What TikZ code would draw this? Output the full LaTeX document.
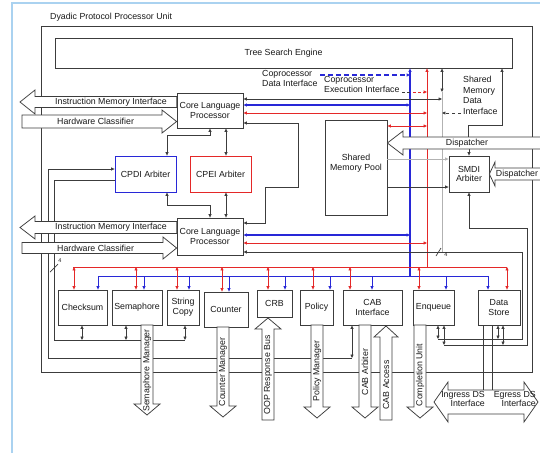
\documentclass[tikz,border=0pt]{standalone}
\usepackage{fontspec}
\setmainfont{Liberation Sans}
\usetikzlibrary{arrows.meta}
\definecolor{cred}{RGB}{228,40,40}
\definecolor{cblue}{RGB}{40,40,215}
\definecolor{frameblue}{RGB}{170,210,240}
\definecolor{ink}{RGB}{60,60,60}
\begin{document}
\begin{tikzpicture}[x=1pt,y=-1pt,
  txt/.style={font=\fontsize{8.8}{9.8}\selectfont, text=black!90, inner sep=0pt, align=center},
  small/.style={font=\fontsize{5.5}{6}\selectfont, text=black!90, inner sep=0pt},
  box/.style={draw=ink, line width=0.75pt, fill=white, align=center, font=\fontsize{8.8}{9.8}\selectfont, text=black!90, inner sep=0pt},
  blk/.style={draw=ink, line width=0.75pt, fill=white, line join=miter},
  ln/.style={draw=ink, line width=0.7pt},
  gln/.style={draw=black!30, line width=0.7pt},
  rln/.style={draw=cred, line width=0.7pt},
  rbus/.style={draw=cred, line width=1pt},
  bln/.style={draw=cblue, line width=1.3pt},
  bthin/.style={draw=cblue, line width=0.8pt},
  ah/.style={-{Triangle[length=3.4pt,width=2.9pt]}},
  ha/.style={{Triangle[length=3.4pt,width=2.9pt]}-},
  ahh/.style={{Triangle[length=3.4pt,width=2.9pt]}-{Triangle[length=3.4pt,width=2.9pt]}},
]
\useasboundingbox (0,0) rectangle (540,453);
\fill[white] (0,0) rectangle (540,453);
\draw[frameblue, line width=1.2pt] (12,453) -- (12,3) -- (541,3);

% rails
\coordinate (bv) at (410,0);
\coordinate (rv) at (427,0);
\coordinate (gv) at (442,0);
\coordinate (rb) at (0,267);
\coordinate (bb) at (0,276);

% outer unit
\draw[ln] (41,26) rectangle (532,372);
\node[txt, anchor=west] (title) at (50,17) {Dyadic Protocol Processor Unit};

% boxes
\node[box, minimum width=457pt, minimum height=30pt] (tse) at (283.5,53) {Tree Search Engine};
\node[box, minimum width=66pt, minimum height=35pt] (clp1) at (210,110.5) {Core Language\\Processor};
\node[box, minimum width=66pt, minimum height=37pt] (clp2) at (210,236.5) {Core Language\\Processor};
\node[box, draw=cblue, minimum width=61pt, minimum height=36pt] (cpdi) at (145.5,174) {CPDI Arbiter};
\node[box, draw=cred, minimum width=61pt, minimum height=36pt] (cpei) at (220.5,174) {CPEI Arbiter};
\node[box, minimum width=62pt, minimum height=95pt] (smp) at (356,167.5) {};
\node[txt] (smplbl) at (356,163) {Shared\\Memory Pool};
\node[box, minimum width=40pt, minimum height=36pt] (smdi) at (469,174) {SMDI\\Arbiter};

\node[box, minimum width=49pt, minimum height=35pt] (checksum) at (82.5,307.5) {Checksum};
\node[box, minimum width=50pt, minimum height=35pt] (sema) at (137,307.5) {Semaphore};
\node[box, minimum width=32pt, minimum height=35pt] (scopy) at (183,307.5) {String\\Copy};
\node[box, minimum width=44pt, minimum height=35pt] (counter) at (226,309.5) {Counter};
\node[box, minimum width=35pt, minimum height=27pt] (crb) at (274.5,303.5) {CRB};
\node[box, minimum width=33pt, minimum height=35pt] (policy) at (316.5,307.5) {Policy};
\node[box, minimum width=59pt, minimum height=35pt] (cab) at (372.5,307.5) {CAB\\Interface};
\node[box, minimum width=41pt, minimum height=35pt] (enq) at (433.5,307.5) {Enqueue};
\node[box, minimum width=42pt, minimum height=35pt] (ds) at (499,307.5) {Data\\Store};

% labels of interfaces
\node[txt, align=left, anchor=north west] (cdi) at (262,70) {Coprocessor\\Data Interface};
\node[txt, align=left, anchor=north west] (cei) at (324,76) {Coprocessor\\Execution Interface};
\node[txt, align=left, anchor=north west, font=\fontsize{8.8}{10.6}\selectfont] (smdil) at (463,76) {Shared\\Memory\\Data\\Interface};

% rails from the tree search engine
\draw[bln, ha] (tse.south -| bv) -- (bv |- bb);
\draw[rln, ha] (tse.south -| rv) -- (rv |- rb);
\draw[ln, ahh] (tse.south -| gv) -- (442,92);
\draw[gln] (442,92) -- (442,252);
\draw[cblue, line width=1.5pt, dash pattern=on 5pt off 3pt, ah] (320,75) -- (bv |- 0,75);
\draw[ink, line width=0.7pt, dash pattern=on 3pt off 2pt] (402,92) -- (411,92);
\draw[cred, line width=0.8pt, dash pattern=on 3pt off 2pt, ah] (413,92) -- (rv |- 0,92);
\draw[ln, dashed, ah] (461,113) -- (gv |- 0,113);

% core language processor 1 interfaces
\draw[ln, ahh] (clp1.east |- 0,99) -- (gv |- 0,99);
\draw[bln, ahh] (clp1.east |- 0,105) -- (bv |- 0,105);
\draw[rln, ahh] (clp1.east |- 0,113) -- (rv |- 0,113);
\draw[ln, ahh] (clp1.east |- 0,123) -- (298,123) -- (298,187) -- (265,187) -- (265,223) -- (clp2.east |- 0,223);

% shared memory pool
\draw[rln, ahh] (smp.east |- 0,126) -- (rv |- 0,126);
\draw[gln, ah] (smp.east |- 0,159) -- (smdi.west |- 0,159);
\draw[ln, ah] (smp.east |- 0,187) -- (smdi.west |- 0,187);
\draw[ln, ah] (smdi.north |- 0,149) -- (smdi.north);
\draw[ln, ah] (468,137) -- (468,125) -- (502,125) -- (tse.south -| 502,0);

% core language processor 2 interfaces
\draw[bln, ahh] (clp2.east |- 0,235) -- (bv |- 0,235);
\draw[rln, ahh] (clp2.east |- 0,243) -- (rv |- 0,243);
\draw[ln, ha] (clp2.east |- 0,252) -- (522,252) -- (522,339) -- (438,339);
\draw[ln] (436,256) -- (441,248);
\node[small] (w4b) at (446,254.5) {4};
\draw[ln, ha] (smdi.south) -- (smdi.south |- 0,228) -- (527,228) -- (527,345) -- (444,345);

% arbiters to core language processors
\draw[ln, ahh] (cpdi.north -| 167,0) -- (167,135) -- (210,135) -- (clp1.south -| 210,0);
\draw[ln, ahh] (clp1.south -| 226,0) -- (cpei.north -| 226,0);
\draw[ln, ahh] (cpdi.south -| 167,0) -- (167,205) -- (210,205) -- (clp2.north -| 210,0);
\draw[ln, ahh] (cpei.south -| 226,0) -- (clp2.north -| 226,0);

% CPDI loops
\draw[ln, ha] (cpdi.west |- 0,169) -- (48,169) -- (48,358) -- (352,358);
\draw[ln, ahh] (cab.south -| 352,0) -- (352,358);
\draw[ln] (cpdi.west |- 0,180) -- (54,180) -- (54,340) -- (185,340);
\draw[ln, ahh] (checksum.south -| 82,0) -- (82,340);
\draw[ln, ahh] (sema.south -| 126,0) -- (126,340);
\draw[ln, ahh] (scopy.south -| 185,0) -- (185,340);
\draw[ln] (50,272) -- (58,264);
\node[small] (w4a) at (60,261) {4};

% enqueue / data store side links
\draw[ln, ahh] (enq.south -| 438,0) -- (438,339);
\draw[ln, ahh] (enq.south -| 444,0) -- (444,345);
\draw[ln, ahh] (ds.south -| 498,0) -- (498,339);
\draw[ln, ahh] (ds.south -| 503,0) -- (503,345);
\draw[ln] (ds.south -| 483,0) -- (483,392);
\draw[ln] (ds.south -| 492,0) -- (492,392);

% buses
\draw[rbus] (73,267) -- (507,267);
\draw[bthin] (98,276) -- (488,276);
\foreach \x/\n in {74/checksum,136/sema,177/scopy,222/counter,268/crb,313/policy,350/cab,419/enq,507/ds}
  \draw[rln, ahh] (\x,267) -- (\n.north -| \x,0);
\foreach \x/\n in {98/checksum,144/sema,189/scopy,229/counter,285/crb,330/policy,372/cab,446/enq,488/ds}
  \draw[bthin, ah] (\x,276) -- (\n.north -| \x,0);

% block arrows: left side
\draw[blk] (clp1.west |- 0,96.5) -- (35,96.5) -- (35,90) -- (20,102) -- (35,114) -- (35,107.5) -- (clp1.west |- 0,107.5) -- cycle;
\node[txt, anchor=west] (imi1) at (55,102) {Instruction Memory Interface};
\draw[blk] (22,115) -- (162,115) -- (162,110) -- (clp1.west |- 0,121.5) -- (162,133) -- (162,128) -- (22,128) -- cycle;
\node[txt, anchor=west] (hc1) at (57,121.5) {Hardware Classifier};
\draw[blk] (clp2.west |- 0,221.5) -- (35,221.5) -- (35,216) -- (20,227.5) -- (35,239) -- (35,233.5) -- (clp2.west |- 0,233.5) -- cycle;
\node[txt, anchor=west] (imi2) at (55,227.5) {Instruction Memory Interface};
\draw[blk] (22,242.5) -- (163,242.5) -- (163,237) -- (clp2.west |- 0,248) -- (163,259) -- (163,253.5) -- (22,253.5) -- cycle;
\node[txt, anchor=west] (hc2) at (57,248) {Hardware Classifier};

% dispatchers
\draw[blk] (smp.east |- 0,143) -- (403,131) -- (403,137) -- (546,137) -- (546,149) -- (403,149) -- (403,155) -- cycle;
\node[txt] (disp1) at (467,143) {Dispatcher};
\draw[blk] (smdi.east |- 0,174) -- (495,162) -- (495,168) -- (546,168) -- (546,180) -- (495,180) -- (495,186) -- cycle;
\node[txt] (disp2) at (517,174) {Dispatcher};

% bottom block arrows
\draw[blk] (141,325) -- (141,404) -- (134,404) -- (147,415) -- (160,404) -- (153,404) -- (153,325) -- cycle;
\node[txt, rotate=90] (semm) at (147,370.5) {Semaphore Manager};
\draw[blk] (217,327) -- (217,406) -- (210,406) -- (223,417) -- (236,406) -- (229,406) -- (229,327) -- cycle;
\node[txt, rotate=90] (cntm) at (223,372) {Counter Manager};
\draw[blk] (262,420) -- (262,329) -- (255,329) -- (268,318) -- (281,329) -- (274,329) -- (274,420) -- cycle;
\node[txt, rotate=90] (oop) at (268,375) {OOP Response Bus};
\draw[blk] (311,325) -- (311,407) -- (304,407) -- (317,418) -- (330,407) -- (323,407) -- (323,325) -- cycle;
\node[txt, rotate=90] (polm) at (317,371) {Policy Manager};
\draw[blk] (359,325) -- (359,407) -- (352,407) -- (365,418) -- (378,407) -- (371,407) -- (371,325) -- cycle;
\node[txt, rotate=90] (caba) at (365,372) {CAB Arbiter};
\draw[blk] (380,420) -- (380,337) -- (374,337) -- (386,326) -- (398,337) -- (392,337) -- (392,420) -- cycle;
\node[txt, rotate=90] (cabx) at (386,385) {CAB Access};
\draw[blk] (414,325) -- (414,407) -- (407,407) -- (420,418) -- (433,407) -- (426,407) -- (426,325) -- cycle;
\node[txt, rotate=90] (cmpu) at (420,375) {Completion Unit};

% ingress / egress
\draw[blk] (434,402) -- (448,382) -- (448,390) -- (524,390) -- (524,382) -- (538,402) -- (524,422) -- (524,414) -- (448,414) -- (448,422) -- cycle;
\node[txt, align=right, anchor=east] (ingr) at (485,399) {Ingress DS\\Interface};
\node[txt, align=right, anchor=east] (egr) at (536,399) {Egress DS\\Interface};
\end{tikzpicture}
\end{document}
